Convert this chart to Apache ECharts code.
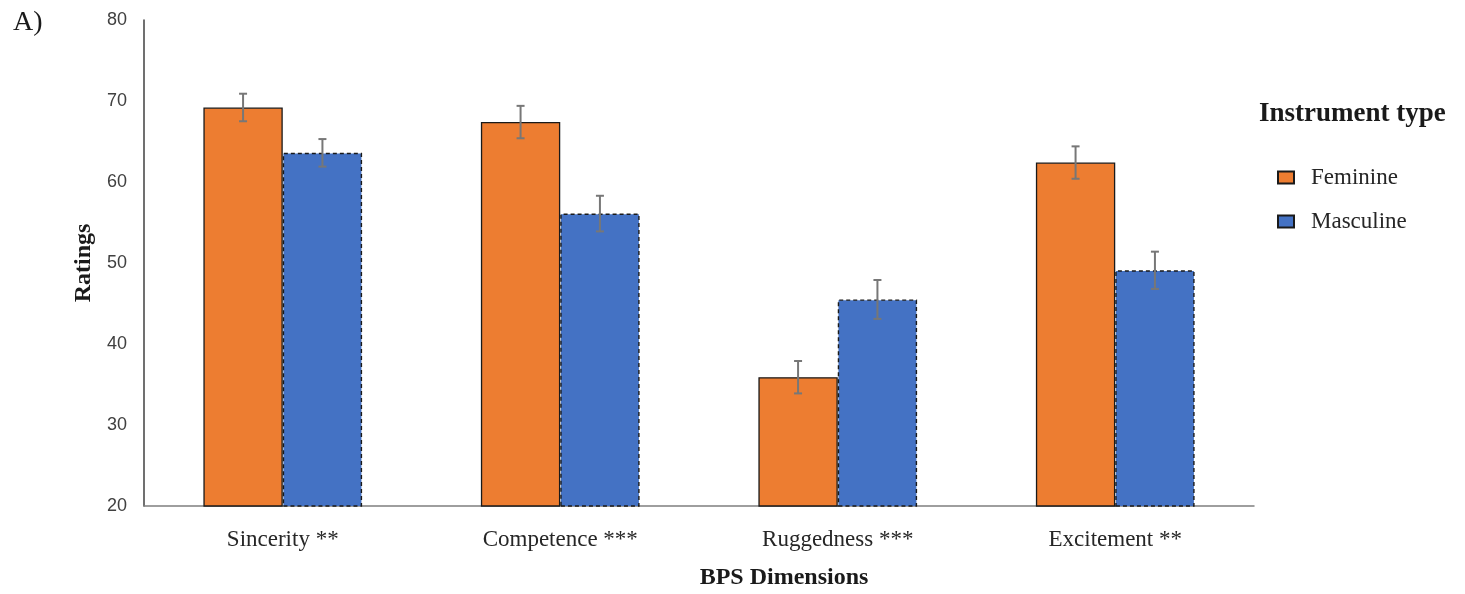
<!DOCTYPE html>
<html>
<head>
<meta charset="utf-8">
<script src="https://cdn.jsdelivr.net/npm/echarts@6/dist/echarts.min.js"></script>
<style>
html,body{margin:0;padding:0;background:#fff;}
#chart{width:1465px;height:594px;}
</style>
</head>
<body>
<div id="chart"></div>
<script>
const categories = ['Sincerity **', 'Competence ***', 'Ruggedness ***', 'Excitement **'];
const feminine = [69.2, 67.4, 35.9, 62.4];
const feminineErr = [1.7, 2.0, 2.0, 2.0];
const masculine = [63.6, 56.1, 45.5, 49.1];
const masculineErr = [1.7, 2.2, 2.4, 2.3];
const yTicks = [20, 30, 40, 50, 60, 70, 80];

const BAR_FRAC = 0.286;

function errData(vals, errs) {
  return vals.map((v, i) => [i, v - errs[i], v + errs[i]]);
}

function errRender(side) {
  return function (params, api) {
    const i = api.value(0);
    const lo = api.coord([i, api.value(1)]);
    const hi = api.coord([i, api.value(2)]);
    const band = api.size([1, 0])[0];
    const bw = band * BAR_FRAC;
    const x = lo[0] + side * bw / 2;
    const cap = 4;
    const style = { stroke: '#777777', lineWidth: 2, fill: null };
    return {
      type: 'group',
      children: [
        { type: 'line', shape: { x1: x, y1: lo[1], x2: x, y2: hi[1] }, style },
        { type: 'line', shape: { x1: x - cap, y1: lo[1], x2: x + cap, y2: lo[1] }, style },
        { type: 'line', shape: { x1: x - cap, y1: hi[1], x2: x + cap, y2: hi[1] }, style }
      ]
    };
  };
}

const chart = echarts.init(document.getElementById('chart'), null, { renderer: 'canvas' });
chart.setOption({
  animation: false,
  backgroundColor: '#ffffff',
  title: [
    { text: 'A)', left: 8, top: 4, textStyle: { fontFamily: 'Liberation Serif', fontSize: 28, fontWeight: 'normal', color: '#1a1a1a' } },
    { text: 'Instrument type', left: 1254, top: 96, textStyle: { fontFamily: 'Liberation Serif', fontSize: 27, fontWeight: 'bold', color: '#1a1a1a' } }
  ],
  legend: {
    orient: 'vertical',
    left: 1272,
    top: 161,
    itemWidth: 16,
    itemHeight: 12,
    itemGap: 21,
    icon: 'rect',
    textStyle: { fontFamily: 'Liberation Serif', fontSize: 23, color: '#262626', padding: [0, 0, 0, 12], lineHeight: 22 },
    data: ['Feminine', 'Masculine']
  },
  grid: { left: 144, right: 211, top: 20, bottom: 88, containLabel: false, outerBoundsMode: 'none' },
  xAxis: {
    type: 'category',
    data: categories,
    name: 'BPS Dimensions',
    nameLocation: 'middle',
    nameGap: 60,
    nameTextStyle: { fontFamily: 'Liberation Serif', fontSize: 24, fontWeight: 'bold', color: '#1a1a1a', padding: [0, 0, 0, 170] },
    axisLine: { lineStyle: { color: '#7f7f7f', width: 1.5 } },
    axisTick: { show: false },
    axisLabel: { fontFamily: 'Liberation Serif', fontSize: 23, color: '#262626', margin: 22 }
  },
  yAxis: {
    type: 'value',
    min: yTicks[0],
    max: yTicks[yTicks.length - 1],
    interval: 10,
    name: 'Ratings',
    nameLocation: 'middle',
    nameGap: 40,
    nameRotate: 90,
    nameTextStyle: { fontFamily: 'Liberation Serif', fontSize: 24, fontWeight: 'bold', color: '#1a1a1a' },
    axisLine: { show: true, lineStyle: { color: '#404040', width: 1.5 } },
    axisTick: { show: false },
    splitLine: { show: false },
    axisLabel: { fontFamily: 'Liberation Sans', fontSize: 18, color: '#404040', margin: 17 }
  },
  series: [
    {
      name: 'Feminine',
      type: 'bar',
      data: feminine,
      barWidth: (BAR_FRAC * 100) + '%',
      barGap: '0%',
      itemStyle: { color: '#ED7D31', borderColor: '#1a1a1a', borderWidth: 1.3 }
    },
    {
      name: 'Masculine',
      type: 'bar',
      data: masculine,
      barWidth: (BAR_FRAC * 100) + '%',
      barGap: '0%',
      itemStyle: { color: '#4472C4', borderColor: '#1a1a1a', borderWidth: 1.4, borderType: [4, 3] }
    },
    {
      type: 'custom',
      data: errData(feminine, feminineErr),
      encode: { x: 0, y: [1, 2] },
      renderItem: errRender(-1),
      z: 10,
      silent: true
    },
    {
      type: 'custom',
      data: errData(masculine, masculineErr),
      encode: { x: 0, y: [1, 2] },
      renderItem: errRender(1),
      z: 10,
      silent: true
    }
  ]
});
</script>
</body>
</html>
